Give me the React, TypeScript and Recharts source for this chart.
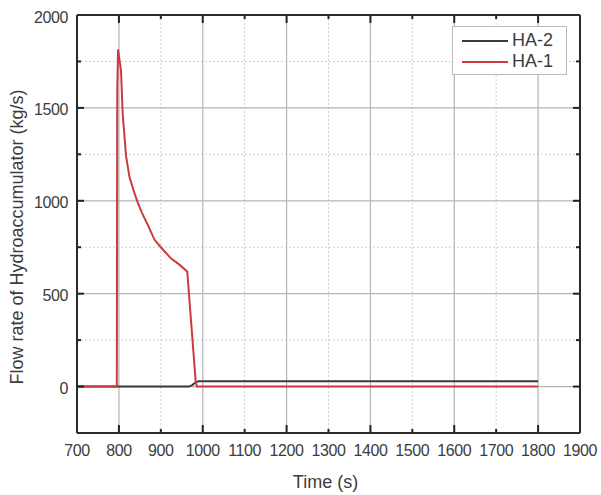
import React from 'react';
import { LineChart, Line, XAxis, YAxis, ReferenceLine, Legend, CartesianGrid } from 'recharts';

// ---- data ----
const HA1_TIME = [700, 795, 796, 798, 805, 809, 817, 825, 835, 845, 855, 870, 885, 900, 924, 945, 963, 983, 986, 1800];
const HA1_FLOW = [0, 0, 1600, 1815, 1700, 1470, 1240, 1130, 1055, 990, 935, 865, 790, 750, 690, 655, 620, 32, 0, 0];
const HA2_TIME = [700, 967, 975, 983, 990, 1800];
const HA2_FLOW = [0, 0, 8, 23, 28, 28];

const X_TICKS = [700, 800, 900, 1000, 1100, 1200, 1300, 1400, 1500, 1600, 1700, 1800, 1900];
const Y_TICKS = [0, 250, 500, 750, 1000, 1250, 1500, 1750, 2000];
const Y_LABELED = [0, 500, 1000, 1500, 2000];
const X_MAJOR_GRID = [800, 1000, 1200, 1400, 1600, 1800];
const X_MINOR_GRID = [900, 1100, 1300, 1500, 1700];
const Y_MAJOR_GRID = [0, 500, 1000, 1500];
const Y_MINOR_GRID = [250, 750, 1250, 1750];

const X_TITLE = 'Time (s)';
const Y_TITLE = 'Flow rate of Hydroaccumulator (kg/s)';

const SERIES = [
  { key: 'HA-2', time: HA2_TIME, flow: HA2_FLOW, color: '#3a3a3a' },
  { key: 'HA-1', time: HA1_TIME, flow: HA1_FLOW, color: '#cc3a3f' },
];

const toRows = (t: number[], v: number[]) => t.map((x, i) => ({ t: x, v: v[i] }));

// ---- layout ----
const W = 601;
const H = 495;
const PLOT_LEFT = 77;
const PLOT_RIGHT = 580;
const PLOT_TOP = 15;
const PLOT_BOTTOM = 433;
const PLOT_W = PLOT_RIGHT - PLOT_LEFT;
const PLOT_H = PLOT_BOTTOM - PLOT_TOP;
const FONT = '"Liberation Sans", Arial, sans-serif';
const TEXT = '#3c3c3c';

const XTick = (props: any) => {
  const { x, y, payload } = props;
  const v = payload.value;
  const major = (v - 800) % 200 === 0;
  const len = major ? 8 : 4;
  const edge = v === 700 || v === 1900;
  return (
    <g>
      {!edge && <line x1={x} x2={x} y1={y} y2={y - len} stroke="#222" strokeWidth={2} />}
      {!edge && <line x1={x} x2={x} y1={y - PLOT_H} y2={y - PLOT_H + len} stroke="#222" strokeWidth={2} />}
      <text x={x} y={y + 23} textAnchor="middle" fontSize={16} fill={TEXT} fontFamily={FONT} letterSpacing={-0.4}>
        {v}
      </text>
    </g>
  );
};

const YTick = (props: any) => {
  const { x, y, payload } = props;
  const v = payload.value;
  const labeled = Y_LABELED.includes(v);
  const len = labeled ? 7 : 4;
  const edge = v === 2000;
  return (
    <g>
      {!edge && <line x1={x} x2={x + len} y1={y} y2={y} stroke="#222" strokeWidth={2} />}
      {!edge && <line x1={x + PLOT_W} x2={x + PLOT_W - len} y1={y} y2={y} stroke="#222" strokeWidth={2} />}
      {labeled && (
        <text x={x - 9} y={y + 7.5} textAnchor="end" fontSize={16} fill={TEXT} fontFamily={FONT} letterSpacing={-0.4}>
          {v}
        </text>
      )}
    </g>
  );
};

const XTitle = (props: any) => {
  const vb = props.viewBox;
  return (
    <text x={vb.x + vb.width / 2 - 3} y={vb.y + 55} textAnchor="middle" fontSize={18} fill={TEXT} fontFamily={FONT}>
      {X_TITLE}
    </text>
  );
};

const YTitle = (props: any) => {
  const vb = props.viewBox;
  const cx = vb.x + 23;
  const cy = vb.y + vb.height / 2 + 13;
  return (
    <text
      x={cx}
      y={cy}
      transform={`rotate(-90, ${cx}, ${cy})`}
      textAnchor="middle"
      fontSize={18}
      fill={TEXT}
      fontFamily={FONT}
    >
      {Y_TITLE}
    </text>
  );
};

const LegendBox = () => (
  <div
    style={{
      width: 115,
      height: 49,
      border: '1px solid #bbb',
      background: '#fff',
      boxSizing: 'border-box',
      fontFamily: FONT,
      fontSize: 18,
      color: TEXT,
      padding: '3px 0 0 9px',
    }}
  >
    {SERIES.map((s) => (
      <div key={s.key} style={{ display: 'flex', alignItems: 'center', height: 21 }}>
        <div style={{ width: 46, height: 2, background: s.color, marginRight: 4 }} />
        <span>{s.key}</span>
      </div>
    ))}
  </div>
);

export default function App() {
  return (
    <div style={{ position: 'absolute', left: 0, top: 0, width: W, height: H, background: '#fff' }}>
      <LineChart
        width={W}
        height={H}
        margin={{ top: PLOT_TOP, right: W - PLOT_RIGHT, left: 0, bottom: 0 }}
      >
        <CartesianGrid
          horizontalValues={Y_MINOR_GRID}
          verticalValues={X_MINOR_GRID}
          stroke="#d0d0d0"
          strokeDasharray="2 2"
          strokeWidth={1}
        />
        <CartesianGrid
          horizontalValues={Y_MAJOR_GRID}
          verticalValues={X_MAJOR_GRID}
          stroke="#b4b4b4"
          strokeWidth={1.2}
        />
        <XAxis
          type="number"
          dataKey="t"
          domain={[700, 1900]}
          ticks={X_TICKS}
          interval={0}
          allowDataOverflow
          tickSize={0}
          tickMargin={0}
          tickLine={false}
          axisLine={false}
          tick={<XTick />}
          height={H - PLOT_BOTTOM}
          label={XTitle}
        />
        <YAxis
          type="number"
          dataKey="v"
          domain={[-250, 2000]}
          ticks={Y_TICKS}
          interval={0}
          allowDataOverflow
          tickSize={0}
          tickMargin={0}
          tickLine={false}
          axisLine={false}
          tick={<YTick />}
          width={PLOT_LEFT}
          label={YTitle}
        />
        {SERIES.map((s) => (
          <Line
            key={s.key}
            name={s.key}
            data={toRows(s.time, s.flow)}
            dataKey="v"
            type="linear"
            stroke={s.color}
            strokeWidth={2}
            dot={false}
            isAnimationActive={false}
          />
        ))}
        <ReferenceLine x={700} stroke="#2a2a2a" strokeWidth={2} />
        <ReferenceLine x={1900} stroke="#2a2a2a" strokeWidth={2} />
        <ReferenceLine y={-250} stroke="#2a2a2a" strokeWidth={2} />
        <ReferenceLine y={2000} stroke="#2a2a2a" strokeWidth={2} />
        <Legend
          layout="vertical"
          align="center"
          verticalAlign="middle"
          wrapperStyle={{ left: 452, top: 26, width: 115, height: 49 }}
          content={<LegendBox />}
        />
      </LineChart>
    </div>
  );
}
